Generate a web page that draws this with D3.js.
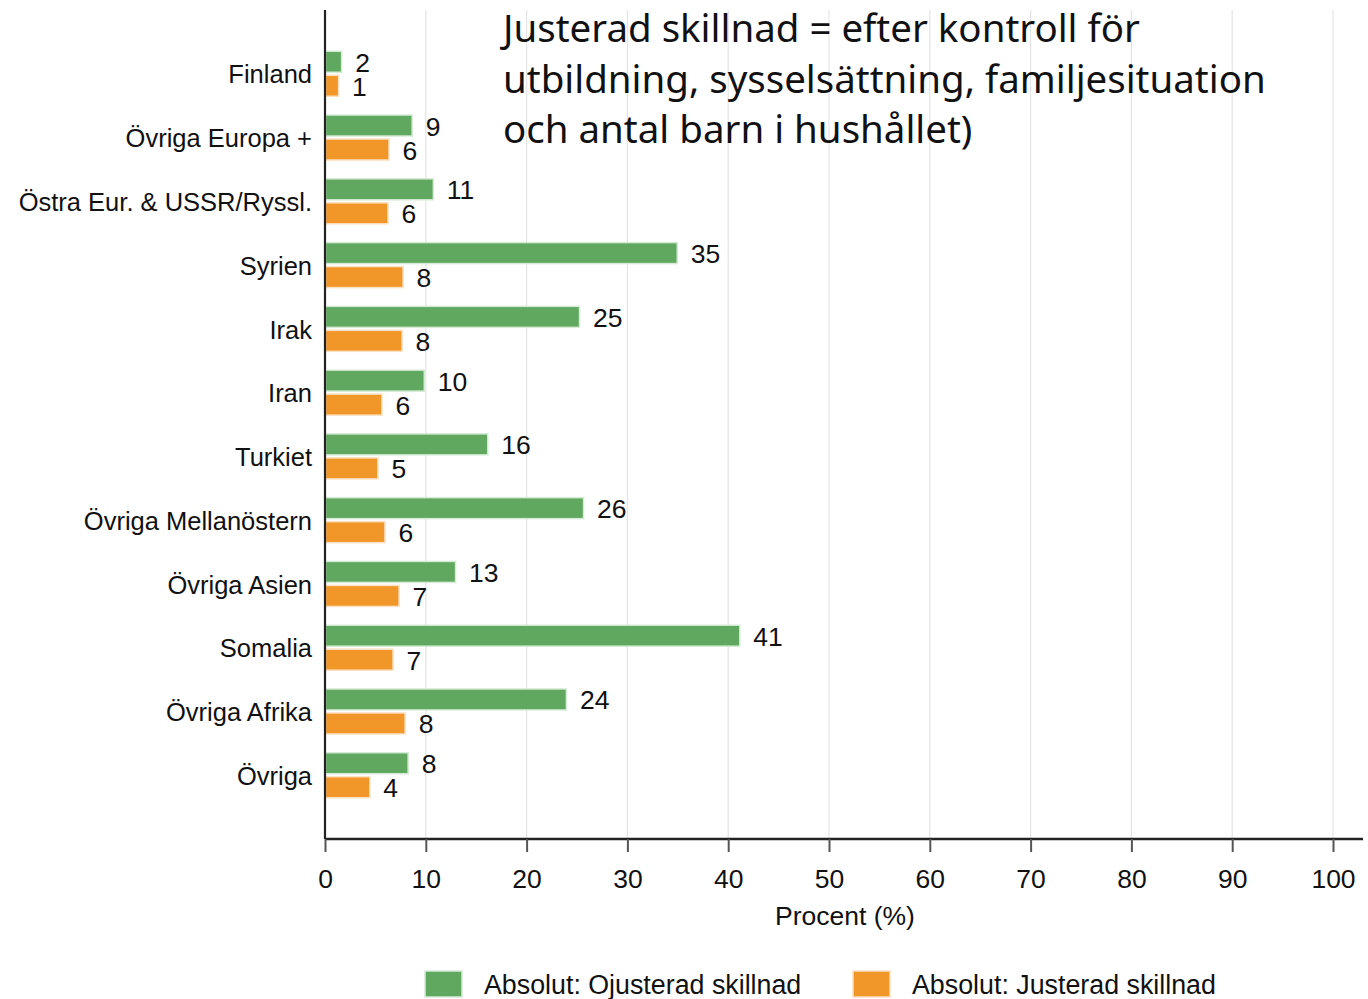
<!DOCTYPE html>
<html>
<head>
<meta charset="utf-8">
<script src="https://cdn.jsdelivr.net/npm/d3@7"></script>
<style>
  html, body { margin: 0; padding: 0; background: #fff; }
  svg { display: block; }
  text { font-family: "Liberation Sans", Arial, sans-serif; fill: #111; }
</style>
</head>
<body>
<svg id="chart" width="1368" height="999"></svg>
<script>
const categories = ["Finland", "Övriga Europa +", "Östra Eur. & USSR/Ryssl.", "Syrien", "Irak", "Iran", "Turkiet", "Övriga Mellanöstern", "Övriga Asien", "Somalia", "Övriga Afrika", "Övriga"];
const unadjusted = [1.6, 8.6, 10.7, 34.9, 25.2, 9.8, 16.1, 25.6, 12.9, 41.1, 23.9, 8.2];
const adjusted   = [1.3, 6.3, 6.2, 7.7, 7.6, 5.6, 5.2, 5.9, 7.3, 6.7, 7.9, 4.4];
const xTicks = [0, 10, 20, 30, 40, 50, 60, 70, 80, 90, 100];
const seriesNames = ["Absolut: Ojusterad skillnad", "Absolut: Justerad skillnad"];
const seriesColors = ["#60a860", "#f19629"];
const seriesStroke = ["#d6ebd6", "#fbe0c2"];
const axisTitle = "Procent (%)";
const noteLines = ["Justerad skillnad = efter kontroll för", "utbildning, sysselsättning, familjesituation", "och antal barn i hushållet)"];

const svg = d3.select("#chart");
const pLeft = 325, pRight = 1333, pTop = 10, pBottom = 839;

const x = d3.scaleLinear().domain([0, 100]).range([pLeft, pRight]);
const y = d3.scaleBand().domain(categories).range([pTop, pBottom]).paddingInner(0).paddingOuter(0.5);
const fmt = d3.format(".0f");

// gridlines
svg.append("g").selectAll("line").data(xTicks.filter(d => d > 0)).join("line")
  .attr("x1", d => x(d)).attr("x2", d => x(d))
  .attr("y1", pTop).attr("y2", pBottom)
  .attr("stroke", "#e4e4e4").attr("stroke-width", 1.2);

// note text
const note = svg.append("g");
const noteText = note.selectAll("text").data(noteLines).join("text")
  .attr("x", 503).attr("y", (d, i) => 42 + i * 50.5)
  .style("font-family", "'Noto Sans', 'Open Sans', sans-serif")
  .style("font-size", "36px")
  .style("fill", "#111")
  .text(d => d);
const w2 = noteText.nodes()[1].getComputedTextLength();
const fs = 36 * 763 / w2;
noteText.style("font-size", fs + "px");

// bars
const c = d => y(d) + y.bandwidth() / 2;
const series = [unadjusted, adjusted];
const offs = [-22.5, 1.5];
const barH = 21;
series.forEach((vals, si) => {
  const g = svg.append("g");
  g.selectAll("rect").data(categories).join("rect")
    .attr("x", x(0) + 0.5)
    .attr("y", d => c(d) + offs[si])
    .attr("width", (d, i) => x(vals[i]) - x(0))
    .attr("height", barH)
    .attr("fill", seriesColors[si])
    .attr("stroke", seriesStroke[si])
    .attr("stroke-width", 1.5);
  g.selectAll("text").data(categories).join("text")
    .attr("x", (d, i) => x(vals[i]) + 14)
    .attr("y", d => c(d) + offs[si] + barH / 2 + 10)
    .style("font-size", "26.5px")
    .text((d, i) => fmt(vals[i]));
});

// y axis
const yAxis = svg.append("g").attr("transform", `translate(${pLeft},0)`)
  .call(d3.axisLeft(y).tickSize(0).tickPadding(13));
yAxis.select(".domain").attr("stroke", "#222").attr("stroke-width", 2.2).attr("d", `M0,${pTop}V${pBottom}`);
yAxis.selectAll("text").style("font-size", "25.5px").attr("dy", "0.38em").style("fill", "#111");

// x axis
const xAxis = svg.append("g").attr("transform", `translate(0,${pBottom})`)
  .call(d3.axisBottom(x).tickValues(xTicks).tickSize(13).tickPadding(6).tickFormat(d3.format("d")));
xAxis.select(".domain").attr("d", `M${pLeft},0H1363`).attr("stroke", "#222").attr("stroke-width", 2.5);
xAxis.selectAll(".tick line").attr("stroke", "#555").attr("stroke-width", 2);
xAxis.selectAll(".tick text").style("font-size", "26.5px").style("fill", "#111").attr("dy", "1.15em");

svg.append("text").attr("x", 845).attr("y", 925).attr("text-anchor", "middle")
  .style("font-size", "26.5px").text(axisTitle);

// legend
const legX = [425, 853];
const leg = svg.append("g").selectAll("g").data(seriesNames).join("g")
  .attr("transform", (d, i) => `translate(${legX[i]},971)`);
leg.append("rect").attr("width", 37).attr("height", 26)
  .attr("fill", (d, i) => seriesColors[i])
  .attr("stroke", (d, i) => seriesStroke[i]).attr("stroke-width", 1.5);
leg.append("text").attr("x", 59).attr("y", 23).style("font-size", "26.8px").text(d => d);
</script>
</body>
</html>
